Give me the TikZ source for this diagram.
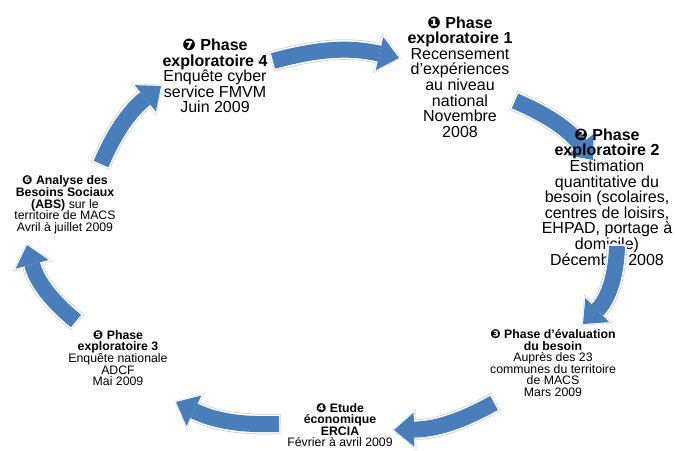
\documentclass[tikz,border=0pt]{standalone}
\usepackage{fontspec}
\setmainfont{Liberation Sans}
\newfontfamily\dingfont{DejaVu Sans}
\usetikzlibrary{arrows.meta}

\definecolor{arrowblue}{RGB}{74,126,187}
\newcommand{\stepnum}[1]{{\dingfont #1}}

\tikzset{
  bigtext/.style={align=center,inner sep=0pt,font=\fontsize{16}{15.6}\selectfont},
  smalltext/.style={align=center,inner sep=0pt,font=\fontsize{12.3}{11.6}\selectfont},
  cyclearrow/.style={line width=16pt,draw=arrowblue,
    -{Triangle[width=34pt,length=20pt,line width=0pt]},
    preaction={draw=gray!40,line width=20.5pt,shorten <=-2pt,shorten >=-2pt,
      -{Triangle[width=41pt,length=24pt,line width=0pt]}},
    preaction={draw=white,line width=19pt,shorten <=-1.5pt,shorten >=-1.5pt,
      -{Triangle[width=39pt,length=23pt,line width=0pt]}}}
}

\begin{document}
\begin{tikzpicture}[x=1pt,y=-1pt]
\useasboundingbox (0,0) rectangle (677,450);
\clip (0,0) rectangle (677,450);

%arrow ends
\coordinate (a1s) at (273,61);
\coordinate (a1e) at (399,58);
\coordinate (a2s) at (515,101);
\coordinate (a2e) at (593,160);
\coordinate (a3s) at (617,246);
\coordinate (a3e) at (583,324);
\coordinate (a4s) at (494,403);
\coordinate (a4e) at (394,430);
\coordinate (a5s) at (279,424);
\coordinate (a5e) at (176,402);
\coordinate (a6s) at (76,321);
\coordinate (a6e) at (27,245);
\coordinate (a7s) at (101,164);
\coordinate (a7e) at (161,86);

\draw[cyclearrow] (a1s) to[bend left=14] (a1e);
\draw[cyclearrow] (a2s) to[bend left=14] (a2e);
\draw[cyclearrow] (a4s) to[bend left=14] (a4e);
\draw[cyclearrow] (a5s) to[bend left=14] (a5e);
\draw[cyclearrow] (a6s) to[bend left=18] (a6e);
\draw[cyclearrow] (a7s) to[bend left=14] (a7e);

%phases
\node[bigtext] (expl4) at (215,76)
  {\textbf{\stepnum{❼} Phase}\\\textbf{exploratoire 4}\\Enquête cyber\\service FMVM\\Juin 2009};
\node[bigtext] (expl1) at (460,77)
  {\textbf{\stepnum{❶} Phase}\\\textbf{exploratoire 1}\\Recensement\\d’expériences\\au niveau\\national\\Novembre\\2008};
\node[bigtext] (expl2) at (607,197)
  {\textbf{\stepnum{❷} Phase}\\\textbf{exploratoire 2}\\Estimation\\quantitative du\\besoin (scolaires,\\centres de loisirs,\\EHPAD, portage à\\domicile)\\Décembre 2008};
\node[smalltext] (evaluation) at (553,363)
  {\textbf{\stepnum{❸} Phase d’évaluation}\\\textbf{du besoin}\\Auprès des 23\\communes du territoire\\de MACS\\Mars 2009};
\node[smalltext] (ercia) at (340,425)
  {\textbf{\stepnum{❹} Etude}\\\textbf{économique}\\\textbf{ERCIA}\\Février à avril 2009};
\node[smalltext] (expl3) at (118,358)
  {\textbf{\stepnum{❺} Phase}\\\textbf{exploratoire 3}\\Enquête nationale\\ADCF\\Mai 2009};
\node[smalltext] (abs) at (65,205)
  {\textbf{\stepnum{❻} Analyse des}\\\textbf{Besoins Sociaux}\\\textbf{(ABS)} sur le\\territoire de MACS\\Avril à juillet 2009};

\draw[cyclearrow] (a3s) to[bend left=22] (a3e);

\end{tikzpicture}
\end{document}
